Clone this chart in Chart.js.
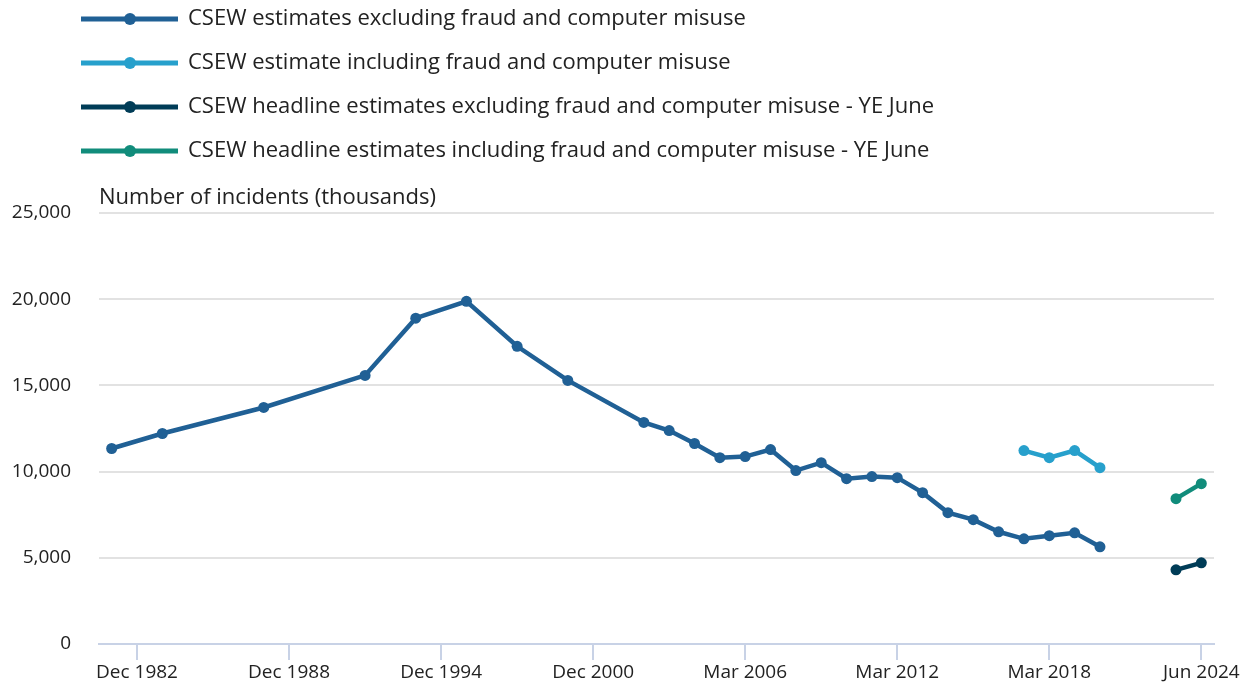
<!DOCTYPE html>
<html>
<head>
<meta charset="utf-8">
<script src="https://cdn.jsdelivr.net/npm/chart.js@4"></script>
<style>
  html, body { margin: 0; padding: 0; background: #fff; }
  #wrap { width: 1248px; height: 684px; }
</style>
</head>
<body>
<div id="wrap"><canvas id="crimeChart"></canvas></div>
<script>
// -------------------------- Data --------------------------

const labels = [
  'Dec 1981','Dec 1982','Dec 1983','Dec 1984','Dec 1985','Dec 1986','Dec 1987','Dec 1988',
  'Dec 1989','Dec 1990','Dec 1991','Dec 1992','Dec 1993','Dec 1994','Dec 1995','Dec 1996',
  'Dec 1997','Dec 1998','Dec 1999','Dec 2000','Dec 2001',
  'Mar 2002','Mar 2003','Mar 2004','Mar 2005','Mar 2006','Mar 2007','Mar 2008','Mar 2009',
  'Mar 2010','Mar 2011','Mar 2012','Mar 2013','Mar 2014','Mar 2015','Mar 2016','Mar 2017',
  'Mar 2018','Mar 2019','Mar 2020','Mar 2021','Mar 2022',
  'Jun 2023','Jun 2024'
];

const tickLabels = ['Dec 1982','Dec 1988','Dec 1994','Dec 2000','Mar 2006','Mar 2012','Mar 2018','Jun 2024'];
const yTicks = [0, 5000, 10000, 15000, 20000, 25000];
const yTitle = 'Number of incidents (thousands)';

const seriesNames = [
  'CSEW estimates excluding fraud and computer misuse',
  'CSEW estimate including fraud and computer misuse',
  'CSEW headline estimates excluding fraud and computer misuse - YE June',
  'CSEW headline estimates including fraud and computer misuse - YE June'
];

const exclFraud = [
  11340, null, 12210, null, null, null, 13720, null,
  null, null, 15580, null, 18900, null, 19880, null,
  17270, null, 15290, null, null,
  12850, 12380, 11630, 10810, 10870, 11280, 10060, 10520,
  9590, 9710, 9650, 8780, 7620, 7210, 6510, 6100,
  6280, 6450, 5640, null, null,
  null, null
];

const inclFraud = [
  null, null, null, null, null, null, null, null,
  null, null, null, null, null, null, null, null,
  null, null, null, null, null,
  null, null, null, null, null, null, null, null,
  null, null, null, null, null, null, null, 11220,
  10810, 11220, 10230, null, null,
  null, null
];

const headlineExcl = [
  null, null, null, null, null, null, null, null,
  null, null, null, null, null, null, null, null,
  null, null, null, null, null,
  null, null, null, null, null, null, null, null,
  null, null, null, null, null, null, null, null,
  null, null, null, null, null,
  4300, 4710
];

const headlineIncl = [
  null, null, null, null, null, null, null, null,
  null, null, null, null, null, null, null, null,
  null, null, null, null, null,
  null, null, null, null, null, null, null, null,
  null, null, null, null, null, null, null, null,
  null, null, null, null, null,
  8430, 9300
];

const colours = ['#206095', '#27a0cc', '#003c57', '#118c7b'];

// -------------------------- Legend + axis title --------------------------

const overlay = {
  id: 'overlay',
  afterDraw(chart) {
    const ctx = chart.ctx;
    ctx.save();
    chart.data.datasets.forEach((ds, i) => {
      const y = 19 + i * 44;
      ctx.strokeStyle = ds.borderColor;
      ctx.lineWidth = 5;
      ctx.beginPath(); ctx.moveTo(81, y); ctx.lineTo(178, y); ctx.stroke();
      ctx.fillStyle = ds.borderColor;
      ctx.beginPath(); ctx.arc(130, y, 6, 0, Math.PI * 2); ctx.fill();
      ctx.fillStyle = '#222222';
      ctx.font = '22px "Open Sans"';
      ctx.textBaseline = 'middle';
      ctx.fillText(ds.label, 188, y);
    });
    ctx.font = '22px "Open Sans"';
    ctx.textBaseline = 'middle';
    ctx.fillStyle = '#222222';
    ctx.fillText(yTitle, chart.chartArea.left, chart.chartArea.top - 15);
    ctx.restore();
  }
};

// -------------------------- Chart --------------------------

function series(label, data, colour, gaps) {
  return {
    label: label, data: data, borderColor: colour, backgroundColor: colour,
    borderWidth: 4.5, pointRadius: 5.5, pointBorderWidth: 0, pointBackgroundColor: colour,
    spanGaps: gaps, tension: 0
  };
}

const ctx = document.getElementById('crimeChart').getContext('2d');
const crimeChart = new Chart(ctx, {
  type: 'line',
  data: {
    labels: labels,
    datasets: [
      series(seriesNames[0], exclFraud, colours[0], true),
      series(seriesNames[1], inclFraud, colours[1], false),
      series(seriesNames[2], headlineExcl, colours[2], false),
      series(seriesNames[3], headlineIncl, colours[3], false)
    ]
  },
  options: {
    responsive: true,
    maintainAspectRatio: false,
    animation: false,
    layout: { padding: { top: 213, left: 10, right: 34, bottom: 0 } },
    plugins: { legend: { display: false }, tooltip: { enabled: false } },
    scales: {
      x: {
        type: 'category',
        offset: true,
        afterFit: (scale) => { scale.height = 40; },
        border: { display: true, color: '#c8d2e6', width: 2 },
        grid: {
          offset: false,
          drawOnChartArea: false,
          drawTicks: true,
          tickLength: 16,
          lineWidth: 2,
          color: (c) => tickLabels.includes(labels[c.index]) ? '#c8d2e6' : 'rgba(0,0,0,0)'
        },
        ticks: {
          autoSkip: false,
          maxRotation: 0,
          padding: 1,
          color: '#222222',
          font: { family: 'Open Sans', size: 19 },
          callback: (value, index) => tickLabels.includes(labels[index]) ? labels[index] : ''
        }
      },
      y: {
        min: yTicks[0],
        max: yTicks[yTicks.length - 1],
        afterFit: (scale) => { scale.width = 89; },
        afterBuildTicks: (scale) => { scale.ticks = yTicks.map(v => ({ value: v })); },
        border: { display: false },
        grid: { color: '#e2e2e2', lineWidth: 2, drawTicks: false },
        ticks: {
          padding: 28,
          color: '#222222',
          font: { family: 'Open Sans', size: 19 },
          callback: (v) => v.toLocaleString('en-GB')
        }
      }
    }
  },
  plugins: [overlay]
});
</script>
</body>
</html>
